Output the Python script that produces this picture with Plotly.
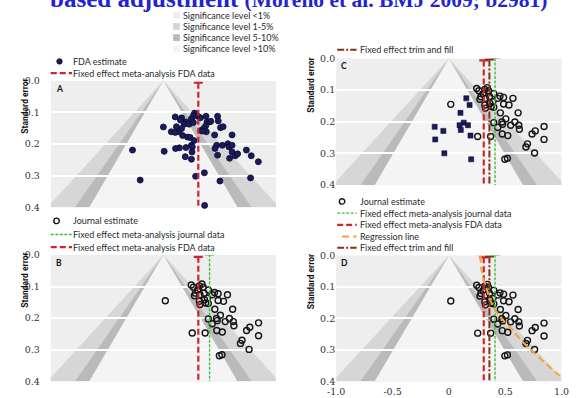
import plotly.graph_objects as go

W, H = 586, 398

# ---------------- data ----------------
# FDA effect-size estimates and their standard errors (panel A)
fda_effect = [0.277, 0.266, 0.306, 0.329, 0.249, 0.378, 0.481, 0.487, 0.105, 0.162,
              0.151, 0.200, 0.185, 0.228, 0.266, 0.387, 0.409, 0.421, 0.375, 0.358,
              0.335, 0.381, 0.346, 0.000, 0.116, 0.162, 0.134, 0.070, 0.105, 0.171,
              0.214, 0.237, 0.272, 0.507, 0.530, 0.455, 0.610, 0.249, 0.257, 0.200,
              0.142, 0.108, 0.007, -0.274, 0.254, 0.194, 0.249, 0.473, 0.458, 0.524,
              0.573, 0.582, 0.610, 0.481, 0.610, 0.588, 0.639, 0.659, 0.737, 0.780,
              0.843, 0.286, 0.364, 0.502, 0.774, -0.206, 0.366, 0.378]
fda_se = [0.102, 0.110, 0.112, 0.117, 0.120, 0.112, 0.112, 0.127, 0.114, 0.117,
          0.124, 0.130, 0.137, 0.137, 0.132, 0.130, 0.130, 0.128, 0.143, 0.151,
          0.157, 0.161, 0.159, 0.146, 0.145, 0.151, 0.161, 0.161, 0.163, 0.173,
          0.178, 0.179, 0.189, 0.148, 0.145, 0.171, 0.171, 0.204, 0.209, 0.211,
          0.212, 0.214, 0.223, 0.219, 0.225, 0.240, 0.248, 0.204, 0.214, 0.204,
          0.199, 0.209, 0.204, 0.235, 0.225, 0.245, 0.237, 0.231, 0.219, 0.237,
          0.256, 0.302, 0.291, 0.317, 0.307, 0.314, 0.394, 0.402]

# Journal effect-size estimates (panels B, C, D)
journal_effect = [0.247, 0.267, 0.319, 0.342, 0.353, 0.304, 0.284, 0.276, 0.325, 0.362,
                  0.399, 0.434, 0.454, 0.486, 0.569, 0.391, 0.365, 0.319, 0.325, 0.376,
                  0.399, 0.486, 0.534, 0.017, 0.457, 0.615, 0.506, 0.471, 0.399, 0.434,
                  0.477, 0.549, 0.586, 0.621, 0.626, 0.474, 0.523, 0.371, 0.256, 0.739,
                  0.767, 0.845, 0.845, 0.698, 0.684, 0.761, 0.497, 0.520]
journal_se = [0.095, 0.102, 0.098, 0.092, 0.102, 0.111, 0.121, 0.129, 0.126, 0.121,
              0.111, 0.126, 0.119, 0.123, 0.126, 0.137, 0.142, 0.147, 0.157, 0.152,
              0.154, 0.144, 0.147, 0.145, 0.172, 0.172, 0.191, 0.201, 0.203, 0.218,
              0.208, 0.211, 0.201, 0.211, 0.224, 0.239, 0.244, 0.247, 0.247, 0.239,
              0.229, 0.215, 0.256, 0.270, 0.280, 0.299, 0.319, 0.316]

# Studies imputed by trim and fill (panel C)
filled_effect = [0.155, 0.184, 0.103, 0.132, 0.095, 0.170, 0.106, 0.192,
                 -0.126, -0.049, -0.121, -0.040, 0.198]
filled_se = [0.126, 0.147, 0.172, 0.203, 0.211, 0.211, 0.226, 0.244,
             0.216, 0.229, 0.256, 0.300, 0.319]

# Pooled estimates with 95% confidence limits
pooled_keys = ["fda", "journal", "trimfill", "regression"]
pooled_est = [0.31, 0.41, 0.36, 0.29]
pooled_lo = [0.27, 0.37, 0.32, 0.25]
pooled_hi = [0.35, 0.45, 0.40, 0.33]

# Regression-based adjustment line (effect against standard error)
reg_se = [0.0, 0.05, 0.10, 0.135, 0.159, 0.193, 0.231, 0.273, 0.307, 0.345, 0.379, 0.385]
reg_effect = [0.28, 0.292, 0.33, 0.36, 0.39, 0.45, 0.55, 0.65, 0.75, 0.865, 0.974, 1.0]

# Contour bands: two-sided z cut-offs and their labels
contour_z = [2.576, 1.96, 1.645]
sig_labels = ["Significance level <1%", "Significance level 1-5%",
              "Significance level 5-10%", "Significance level >10%"]

se_ticks = [0.0, 0.1, 0.2, 0.3, 0.4]
se_ticktext = ["0.0", "0.1", "0.2", "0.3", "0.4"]
x_ticks = [-1.0, -0.5, 0.0, 0.5, 1.0]
x_ticktext = ["-1.0", "-0.5", "0", "0.5", "1.0"]

# ---------------- styles ----------------
BG = "#eeeeee"
BAND = {"<1%": "#eeeeee", "1-5%": "#d6d6d6", "5-10%": "#bababa", ">10%": "#f4f4f4"}
band_fill = [BAND["1-5%"], BAND["5-10%"], BAND[">10%"]]
NAVY = "#1c1c5c"
RED = "#d1242b"
GREEN = "#3fbf3f"
BROWN = "#86301a"
ORANGE = "#f2a533"
TXT = "#2a2a2a"
LEG_FONT = dict(family="Lato", size=9, color=TXT)
TICK_FONT = dict(family="DejaVu Serif", size=9.5, color="#333333")

line_style = {
    "fda": dict(color=RED, width=2.2, dash="6px,3px"),
    "journal": dict(color=GREEN, width=1.4, dash="3px,1.5px"),
    "trimfill": dict(color=BROWN, width=2.0, dash="7px,2px,2px,2px"),
    "regression": dict(color=ORANGE, width=2.0, dash="7px,4px"),
}
cap_offset = {"fda": 0.006, "journal": -0.002, "trimfill": 0.003, "regression": -0.003}

# panel: (label, x-axis id, y-axis id, pixel x span, pixel y span, pooled lines)
panels = [
    ("A", "x", "y", (43, 275), (77, 207), ["fda"]),
    ("C", "x2", "y2", (337, 569), (54, 184), ["fda", "trimfill", "journal"]),
    ("B", "x3", "y3", (43, 275), (256, 386), ["fda", "journal"]),
    ("D", "x4", "y4", (337, 569), (256.5, 386), ["fda", "trimfill", "journal", "regression"]),
]


def px(x):
    return x / W


def py(y):
    return 1 - y / H


fig = go.Figure()
shapes = []
annotations = []
layout_axes = {}

for label, xa, ya, (x0, x1), (y0, y1), lines in panels:
    xk = "xaxis" + xa[1:]
    yk = "yaxis" + ya[1:]
    is_bottom_right = label == "D"
    layout_axes[xk] = dict(
        domain=[px(x0), px(x1)], range=[-1.0, 1.0], anchor=ya,
        showgrid=False, zeroline=False, showline=False,
        showticklabels=is_bottom_right, tickvals=x_ticks, ticktext=x_ticktext,
        ticks="outside" if is_bottom_right else "", ticklen=1,
        tickcolor="rgba(0,0,0,0)", tickfont=TICK_FONT, fixedrange=True,
    )
    left = label in ("A", "B")
    layout_axes[yk] = dict(
        domain=[py(y1), py(y0)], range=[0.4, 0.0], anchor=xa,
        tickvals=se_ticks, ticktext=se_ticktext, tickfont=TICK_FONT,
        showgrid=True, gridcolor="white", gridwidth=1.5,
        zeroline=False, showline=False,
        ticks="outside" if left else "", ticklen=8 if left else 0,
        tickcolor="rgba(0,0,0,0)", fixedrange=True,
    )

    # contour-enhanced funnel bands
    for z, col in zip(contour_z, band_fill):
        shapes.append(dict(
            type="path", xref=xa, yref=ya, layer="below",
            path=f"M 0,0 L {-z * 0.4},0.4 L {z * 0.4},0.4 Z",
            fillcolor=col, line=dict(width=0),
        ))

    # study estimates
    if label == "A":
        fig.add_trace(go.Scatter(
            x=fda_effect, y=fda_se, xaxis=xa, yaxis=ya, mode="markers",
            marker=dict(symbol="circle", size=6, color=NAVY,
                        line=dict(color="#0a0a30", width=0.8)),
            cliponaxis=False, showlegend=False, hoverinfo="skip"))
    else:
        if label == "C":
            fig.add_trace(go.Scatter(
                x=filled_effect, y=filled_se, xaxis=xa, yaxis=ya, mode="markers",
                marker=dict(symbol="square", size=5, color=NAVY,
                            line=dict(color="#0a0a30", width=0.6)),
                showlegend=False, hoverinfo="skip"))
        fig.add_trace(go.Scatter(
            x=journal_effect, y=journal_se, xaxis=xa, yaxis=ya, mode="markers",
            marker=dict(symbol="circle-open", size=6, color="#151515",
                        line=dict(width=1.4)),
            showlegend=False, hoverinfo="skip"))

    # pooled estimates: dashed vertical line with CI cap at the top
    for key in lines:
        i = pooled_keys.index(key)
        st = line_style[key]
        cy = cap_offset[key]
        if key == "regression":
            fig.add_trace(go.Scatter(
                x=reg_effect, y=reg_se, xaxis=xa, yaxis=ya, mode="lines",
                line=dict(color=st["color"], width=st["width"], dash=st["dash"],
                          shape="spline"),
                showlegend=False, hoverinfo="skip"))
        else:
            fig.add_trace(go.Scatter(
                x=[pooled_est[i], pooled_est[i]], y=[cy, 0.4], xaxis=xa, yaxis=ya,
                mode="lines", line=st, cliponaxis=False,
                showlegend=False, hoverinfo="skip"))
        fig.add_trace(go.Scatter(
            x=[pooled_lo[i], pooled_hi[i]], y=[cy, cy], xaxis=xa, yaxis=ya,
            mode="lines", line=dict(color=st["color"], width=2.2),
            cliponaxis=False, showlegend=False, hoverinfo="skip"))

    # panel letter
    annotations.append(dict(
        text=f"<b>{label}</b>", xref="paper", yref="paper",
        x=px(x0 + 3), y=py(y0 + 8), xanchor="left", yanchor="middle",
        showarrow=False, font=dict(family="Lato", size=8.5, color="#111111")))

# axis titles
for xt, yc in [(17, 103), (311, 81), (17, 282), (311, 283)]:
    annotations.append(dict(
        text="<b>Standard error</b>", xref="paper", yref="paper",
        x=px(xt), y=py(yc), xanchor="center", yanchor="middle", textangle=-90,
        showarrow=False, font=dict(family="Roboto", size=8.5, color="#111111")))


# ---------------- legend keys ----------------
def key_text(x, y, text):
    annotations.append(dict(
        text=text, xref="paper", yref="paper", x=px(x), y=py(y),
        xanchor="left", yanchor="middle", showarrow=False, font=LEG_FONT))


def key_line(x0, x1, y, key):
    st = line_style[key]
    shapes.append(dict(
        type="line", xref="paper", yref="paper", layer="above",
        x0=px(x0), x1=px(x1), y0=py(y), y1=py(y),
        line=dict(color=st["color"], width=st["width"], dash=st["dash"])))


def key_circle(x, y, filled):
    r = 2.8
    shapes.append(dict(
        type="circle", xref="paper", yref="paper", layer="above",
        x0=px(x - r), x1=px(x + r), y0=py(y + r), y1=py(y - r),
        fillcolor=NAVY if filled else "rgba(0,0,0,0)",
        line=dict(color="#0a0a30" if filled else "#151515", width=0.8 if filled else 1.4)))


# significance levels
for lab, yy, col in zip(sig_labels, [9.5, 21, 32.5, 44],
                        [BAND["<1%"], BAND["1-5%"], BAND["5-10%"], BAND[">10%"]]):
    shapes.append(dict(type="rect", xref="paper", yref="paper", layer="above",
                       x0=px(169), x1=px(176), y0=py(yy + 3.5), y1=py(yy - 3.5),
                       fillcolor=col, line=dict(width=0)))
    key_text(177, yy, lab)

# panel A keys
key_circle(52, 57, True)
key_text(64, 57, "FDA estimate")
key_line(43, 65, 69, "fda")
key_text(64, 69, "Fixed effect meta-analysis FDA data")

# panel C key
key_line(338, 358, 45, "trimfill")
key_text(359, 45, "Fixed effect trim and fill")

# panel B keys
key_circle(49, 221, False)
key_text(64, 221, "Journal estimate")
key_line(43, 65, 235, "journal")
key_text(64, 235, "Fixed effect meta-analysis journal data")
key_line(43, 65, 248, "fda")
key_text(64, 248, "Fixed effect meta-analysis FDA data")

# panel D keys
key_circle(343, 201, False)
key_text(359, 201, "Journal estimate")
key_line(338, 358, 213, "journal")
key_text(359, 213, "Fixed effect meta-analysis journal data")
key_line(338, 358, 225, "fda")
key_text(359, 225, "Fixed effect meta-analysis FDA data")
key_line(343, 358, 237, "regression")
key_text(359, 237, "Regression line")
key_line(338, 358, 248.5, "trimfill")
key_text(359, 248.5, "Fixed effect trim and fill")

# heading
annotations.append(dict(
    text="<b>based adjustment</b> <span style='font-size:21.5px'><b>(Moreno et al. BMJ 2009; b2981)</b></span>",
    xref="paper", yref="paper", x=px(40), y=py(8), xanchor="left", yanchor="bottom",
    showarrow=False, font=dict(family="Liberation Serif", size=25, color="#2323cf")))

fig.update_layout(
    width=W, height=H, margin=dict(l=0, r=0, t=0, b=0),
    paper_bgcolor="white", plot_bgcolor=BG,
    shapes=shapes, annotations=annotations, showlegend=False,
    **layout_axes,
)

fig.write_html("out.html")
